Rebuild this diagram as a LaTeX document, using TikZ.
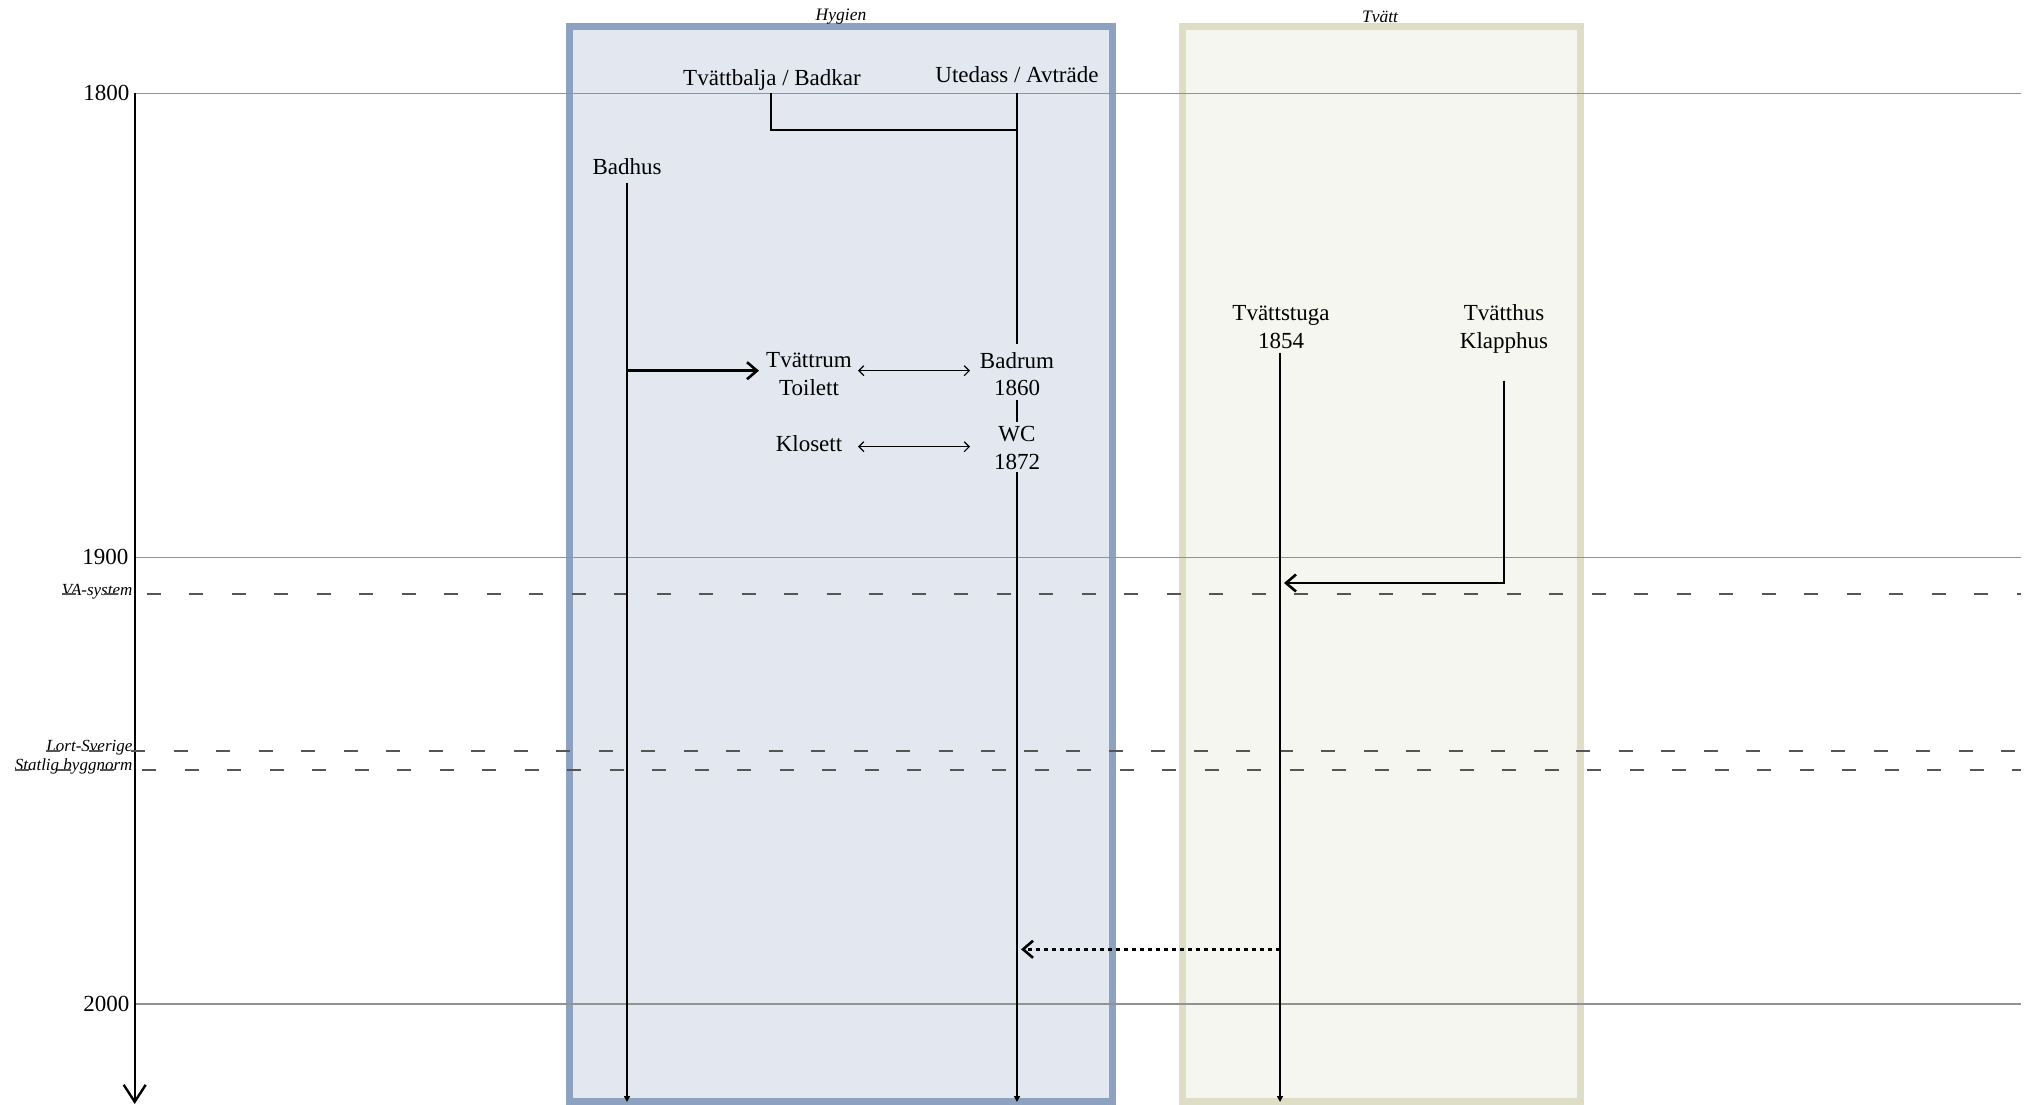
\documentclass[tikz,border=0pt]{standalone}
\usepackage{fontspec}
\setmainfont{Liberation Serif}
\usetikzlibrary{arrows.meta,calc}
\definecolor{hygborder}{HTML}{8CA2C0}
\definecolor{hygfill}{HTML}{E3E8F0}
\definecolor{tvborder}{HTML}{DEDEC6}
\definecolor{tvfill}{HTML}{F5F6F0}
\definecolor{gridgray}{HTML}{929292}
\definecolor{dashgray}{HTML}{555555}
\begin{document}
\begin{tikzpicture}[x=1pt,y=-1pt,
  lbl/.style={font=\fontsize{23}{27.3}\selectfont, inner sep=0pt, align=center},
  yearlbl/.style={font=\fontsize{23}{27.3}\selectfont, inner sep=0pt, anchor=east},
  evlbl/.style={font=\fontsize{17}{20}\selectfont\itshape, inner sep=0pt, anchor=base east},
  boxtitle/.style={font=\fontsize{17.5}{20}\selectfont\itshape, inner sep=0pt},
  gridline/.style={draw=gridgray, line width=1.5pt},
  evline/.style={draw=dashgray, line width=2pt, dash pattern=on 14pt off 28.5pt},
  flow/.style={line width=2.3pt},
  flowend/.style={flow, -{Triangle[length=6pt,width=6pt]}},
  pointer/.style={line width=2.6pt, -{Straight Barb[length=10pt,width=17pt]}},
  twoway/.style={line width=1.2pt, {Straight Barb[length=5pt,width=10pt]}-{Straight Barb[length=5pt,width=10pt]}},
  dotpointer/.style={pointer, dash pattern=on 4.5pt off 3.5pt},
  axisline/.style={line width=2.4pt, -{Straight Barb[length=17pt,width=22pt]}},
  groupbox/.style={line width=7pt}
]
\useasboundingbox (0,0) rectangle (2031,1105);

% group boxes
\draw[groupbox, draw=hygborder, fill=hygfill] (569.5,26.5) rectangle (1112,1101.5);
\draw[groupbox, draw=tvborder, fill=tvfill] (1182,26.5) rectangle (1580.5,1101.5);
\node[boxtitle] (hygtitle) at (841,16.7) {Hygien};
\node[boxtitle] (tvtitle) at (1380,16.7) {Tvätt};

% time axis
\coordinate (rightedge) at (2021,0);
\node[yearlbl] (y1800) at (129.5,93.3) {1800};
\node[yearlbl] (y1900) at (128.5,557.3) {1900};
\node[yearlbl] (y2000) at (129.5,1004) {2000};
\draw[gridline] ($(y1800.east)+(5.2,0)$) -- ($(y1800.east -| rightedge)$);
\draw[gridline] ($(y1900.east)+(6.2,0)$) -- ($(y1900.east -| rightedge)$);
\draw[gridline] ($(y2000.east)+(5.2,0)$) -- ($(y2000.east -| rightedge)$);
\coordinate (axisend) at (134.7,1104);
\draw[axisline] ($(y1800.east)+(5.2,0)$) -- (axisend);

% events
\node[evlbl] (va) at (132.6,595) {VA-system};
\node[evlbl] (lort) at (132.6,751) {Lort-Sverige};
\node[evlbl] (statlig) at (132.6,770.5) {Statlig byggnorm};
\draw[evline] ($(va.base west)+(0,-0.7)$) -- ($(va.base west -| rightedge)+(0,-0.7)$);
\draw[evline] ($(lort.base west)+(0,-0.3)$) -- ($(lort.base west -| rightedge)+(0,-0.3)$);
\draw[evline] ($(statlig.base west)+(0,-0.5)$) -- ($(statlig.base west -| rightedge)+(0,-0.5)$);

% nodes (base = baseline of the last line)
\node[lbl, anchor=base] (tvb) at (772,86) {Tvättbalja / Badkar};
\node[lbl, anchor=base] (ute) at (1017,83) {Utedass / Avträde};
\node[lbl, anchor=base] (badhus) at (627,175) {Badhus};
\node[lbl, anchor=base] (tvattrum) at (809,395) {Tvättrum\\Toilett};
\node[lbl, anchor=base] (badrum) at (1017,395.5) {Badrum\\1860};
\node[lbl, anchor=base] (klosett) at (809,451.7) {Klosett};
\node[lbl, anchor=base] (wc) at (1017,469) {WC\\1872};
\node[lbl, anchor=base] (tvst) at (1281,348) {Tvättstuga\\1854};
\node[lbl, anchor=base] (tvh) at (1504,348) {Tvätthus\\Klapphus};

\coordinate (badhusend) at (627,1102);
\coordinate (wcend) at (1017,1102);
\coordinate (tvstend) at (1280,1102);

% connectors
\draw[flow] ($(tvb.base)+(-1,7.3)$) |- ($(ute.base)+(0,47)$);
\draw[flow] ($(ute.base)+(0,10.3)$) -- ($(badrum.base)+(0,-51.5)$);
\draw[flow] ($(badrum.base)+(0,4)$) -- ($(wc.base)+(0,-47.3)$);
\draw[flowend] ($(wc.base)+(0,3.3)$) -- (wcend);
\draw[flowend] ($(badhus.base)+(0,7.7)$) -- (badhusend);
\draw[pointer] ($(badhus.base |- tvattrum.base)+(0,-24.3)$) -- ($(tvattrum.base)+(-50,-24.3)$);
\draw[twoway] ($(tvattrum.base)+(49,-24.3)$) -- ($(badrum.base)+(-47,-24.8)$);
\draw[twoway] ($(klosett.base)+(49,-5)$) -- ($(wc.base |- klosett.base)+(-47,-5)$);
\draw[flowend] ($(tvst.base)+(-1,4.7)$) -- (tvstend);
\draw[pointer] ($(tvh.base)+(0,32.7)$) |- ($(tvst.base)+(3,235)$);
\draw[dotpointer] ($(tvst.base)+(-1,601.3)$) -- ($(wc.base)+(4,480.3)$);
\end{tikzpicture}
\end{document}
